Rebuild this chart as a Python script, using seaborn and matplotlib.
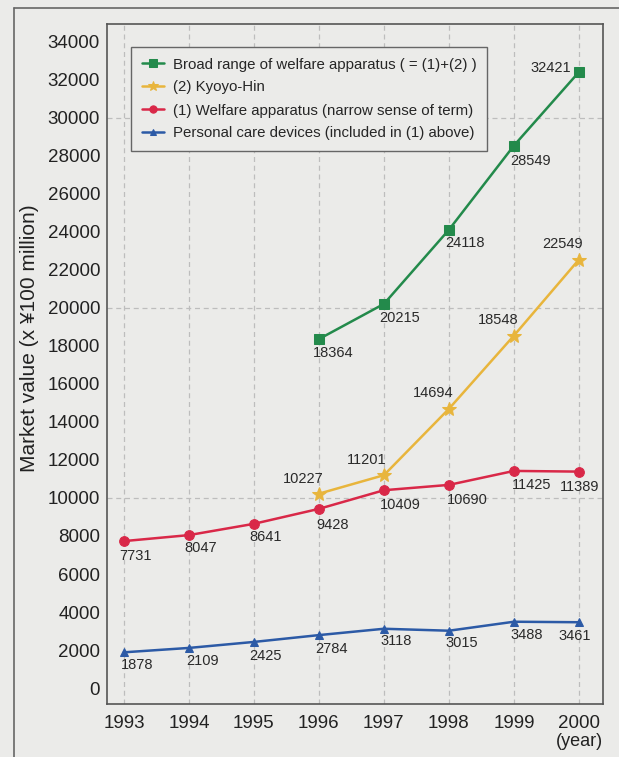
import matplotlib
matplotlib.use("Agg")
import matplotlib.pyplot as plt
import seaborn as sns
import pandas as pd
from matplotlib.lines import Line2D

# ---------------- data ----------------
years_all = [1993, 1994, 1995, 1996, 1997, 1998, 1999, 2000]
years_late = [1996, 1997, 1998, 1999, 2000]

broad = [18364, 20215, 24118, 28549, 32421]
kyoyo = [10227, 11201, 14694, 18548, 22549]
welfare = [7731, 8047, 8641, 9428, 10409, 10690, 11425, 11389]
personal = [1878, 2109, 2425, 2784, 3118, 3015, 3488, 3461]

series_names = [
    "Broad range of welfare apparatus ( = (1)+(2) )",
    "(2) Kyoyo-Hin",
    "(1) Welfare apparatus (narrow sense of term)",
    "Personal care devices (included in (1) above)",
]
y_ticks = list(range(0, 34001, 2000))
x_ticks = years_all

# ---------------- style ----------------
sns.set_style("white")
plt.rcParams["font.family"] = ["Liberation Sans", "DejaVu Sans"]

bg = "#ebebe9"
colors = ["#238a4b", "#e8b53c", "#d92848", "#2c5aa6"]
markers = ["s", "*", "o", "^"]
msizes = [7, 10, 7, 6]

W, H = 619, 757
fig = plt.figure(figsize=(W / 100, H / 100), dpi=100, facecolor=bg)
L, R, T, B = 107, 603, 24, 704
ax = fig.add_axes([L / W, 1 - B / H, (R - L) / W, (B - T) / H])
ax.set_facecolor(bg)

# outer frame (extends past the image edges like the scan)
fig.add_artist(Line2D([14 / W, 14 / W], [1 - 8 / H, -0.1], transform=fig.transFigure,
                      color="#666666", lw=1.2))
fig.add_artist(Line2D([14 / W, 1.1], [1 - 8 / H, 1 - 8 / H], transform=fig.transFigure,
                      color="#666666", lw=1.2))

data_sets = [
    (years_late, broad),
    (years_late, kyoyo),
    (years_all, welfare),
    (years_all, personal),
]

for (xs, ys), name, c, m, ms in zip(data_sets, series_names, colors, markers, msizes):
    df = pd.DataFrame({"year": xs, "value": ys})
    sns.lineplot(data=df, x="year", y="value", ax=ax, color=c, marker=m,
                 markersize=ms, markeredgecolor=c, linewidth=1.8, label=name)

# value labels (offsets in pixels: dx, dy with dy positive = down)
offsets = [
    [(14, 14), (16, 14), (16, 13), (17, 15), (-28, -4)],
    [(-16, -15), (-17, -15), (-16, -16), (-16, -16), (-16, -16)],
    [(12, 15), (12, 13), (12, 13), (14, 16), (16, 15), (18, 15), (18, 14), (1, 15)],
    [(13, 13), (14, 13), (12, 14), (13, 14), (12, 12), (13, 12), (13, 13), (-4, 14)],
]
for (xs, ys), offs in zip(data_sets, offsets):
    for x, y, (dx, dy) in zip(xs, ys, offs):
        ax.annotate(f"{y}", (x, y), xytext=(dx, -dy), textcoords="offset pixels",
                    ha="center", va="center", fontsize=10.5, color="#2a2a2a")

# axes limits / ticks
ax.set_xlim(1992.74, 2000.37)
ax.set_ylim(-842, 34947)
ax.set_xticks(x_ticks)
ax.set_xticklabels([str(v) for v in x_ticks])
ax.set_yticks(y_ticks)
ax.set_yticklabels([str(v) for v in y_ticks])
ax.tick_params(axis="both", direction="in", length=6, width=1.2, color="#444444",
               labelsize=13.5, labelcolor="#222222", pad=5)
ax.tick_params(axis="x", pad=8)

for s in ax.spines.values():
    s.set_color("#555555")
    s.set_linewidth(1.2)
    s.set_visible(True)

# dashed grid
for x in x_ticks:
    ax.axvline(x, color="#bdbdbd", lw=0.9, ls=(0, (4, 3)), zorder=0)
for y in [10000, 20000, 30000]:
    ax.axhline(y, color="#bdbdbd", lw=0.9, ls=(0, (4, 3)), zorder=0)

ax.set_xlabel("")
ax.set_ylabel("Market value (x \u00a5100 million)", fontsize=15, color="#222222")
ax.yaxis.set_label_coords((39 - L) / (R - L), (B - 338) / (B - T))

fig.text(603 / W, 1 - 742 / H, "(year)", ha="right", va="center", fontsize=13,
         color="#222222")

leg = ax.legend(loc="upper left", bbox_to_anchor=((131 - L) / (R - L), (B - 47) / (B - T)),
                borderaxespad=0, fontsize=10.8, frameon=True, fancybox=False,
                edgecolor="#666666", facecolor=bg, framealpha=1, handlelength=1.5,
                handletextpad=0.6, labelspacing=0.6, borderpad=0.7, markerscale=0.75)
leg.get_frame().set_linewidth(1.0)

fig.savefig("out.png", dpi=100, facecolor=bg)
